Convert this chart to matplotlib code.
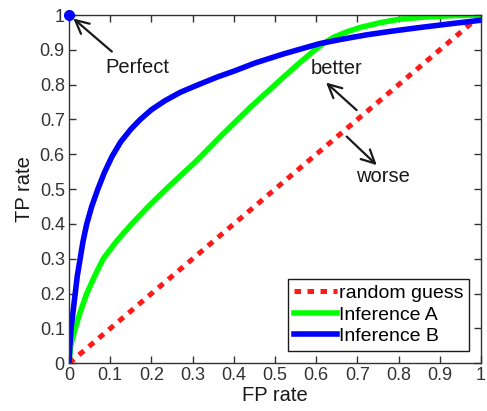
import numpy as np
import matplotlib
matplotlib.use("Agg")
import matplotlib.pyplot as plt

plt.rcParams['font.family'] = ['Liberation Sans', 'DejaVu Sans']

# curves (FP rate, TP rate)
fp_a = [0, 0.004, 0.015, 0.028, 0.043, 0.062, 0.083, 0.115, 0.152, 0.195, 0.24, 0.31,
        0.375, 0.44, 0.52, 0.555, 0.585, 0.612, 0.642, 0.675, 0.706, 0.755, 0.803,
        0.86, 0.925, 1.0]
tp_a = [0, 0.05, 0.1, 0.15, 0.2, 0.25, 0.3, 0.35, 0.4, 0.453, 0.505, 0.582,
        0.66, 0.735, 0.821, 0.858, 0.888, 0.914, 0.936, 0.952, 0.964, 0.978, 0.988,
        0.994, 0.998, 1.0]

fp_b = [0, 0.002, 0.005, 0.01, 0.015, 0.02, 0.027, 0.034, 0.043, 0.055, 0.07, 0.086,
        0.104, 0.125, 0.15, 0.172, 0.2, 0.233, 0.27, 0.314, 0.36, 0.403, 0.451,
        0.52, 0.57, 0.609, 0.66, 0.722, 0.78, 0.844, 0.92, 1.0]
tp_b = [0, 0.05, 0.1, 0.15, 0.2, 0.25, 0.3, 0.35, 0.4, 0.45, 0.5, 0.548,
        0.593, 0.635, 0.672, 0.699, 0.728, 0.754, 0.778, 0.8, 0.822, 0.84, 0.862,
        0.888, 0.905, 0.918, 0.93, 0.943, 0.953, 0.963, 0.974, 0.985]

fp_rand = [0, 1]
tp_rand = [0, 1]

ticks = np.round(np.arange(0, 1.01, 0.1), 1)
tick_labels = ['0'] + ['%.1f' % t for t in ticks[1:-1]] + ['1']

fig = plt.figure(figsize=(4.87, 4.11), dpi=100)
ax = fig.add_axes([0.1417, 0.116, 0.846, 0.8475])

ax.plot(fp_rand, tp_rand, color='#ff1a1a', lw=3.6, linestyle=(0, (1.3, 1.3)),
        dash_capstyle='butt', label='random guess')
ax.plot(fp_a, tp_a, color='#00ff00', lw=4, solid_joinstyle='round', label='Inference A')
ax.plot(fp_b, tp_b, color='#0000ff', lw=4, solid_joinstyle='round', label='Inference B')
ax.plot([0], [1], 'o', color='#0000ff', ms=7, clip_on=False, zorder=5)

arrow = dict(arrowstyle='->', color='#1a1a1a', lw=1.6, mutation_scale=24,
             shrinkA=0, shrinkB=0)
ax.annotate('', xy=(0.0105, 0.99), xytext=(0.104, 0.895), arrowprops=arrow)
ax.text(0.166, 0.848, 'Perfect', fontsize=14.5, ha='center', va='center', color='#1a1a1a')
ax.annotate('', xy=(0.624, 0.806), xytext=(0.698, 0.727), arrowprops=arrow)
ax.text(0.649, 0.846, 'better', fontsize=14.5, ha='center', va='center', color='#1a1a1a')
ax.annotate('', xy=(0.747, 0.569), xytext=(0.674, 0.651), arrowprops=arrow)
ax.text(0.763, 0.536, 'worse', fontsize=14.5, ha='center', va='center', color='#1a1a1a')

ax.set_xlim(0, 1)
ax.set_ylim(0, 1)
ax.set_xticks(ticks)
ax.set_yticks(ticks)
ax.set_xticklabels(tick_labels)
ax.set_yticklabels(tick_labels)
ax.tick_params(direction='in', length=5, width=1, top=True, right=True,
               labelsize=13, colors='#333333', pad=3)
for s in ax.spines.values():
    s.set_color('#333333')
    s.set_linewidth(1)

ax.set_xlabel('FP rate', fontsize=14.5, color='#1a1a1a', labelpad=1)
ax.set_ylabel('TP rate', fontsize=14.5, color='#1a1a1a', labelpad=4)

leg = ax.legend(loc='lower right', bbox_to_anchor=(0.971, 0.035), fontsize=14,
                fancybox=False, edgecolor='#1a1a1a', framealpha=1,
                handlelength=2.2, handletextpad=0.1, borderpad=0.3,
                labelspacing=0.2, borderaxespad=0)
leg.get_frame().set_linewidth(1)

fig.savefig('out.png', dpi=100)
